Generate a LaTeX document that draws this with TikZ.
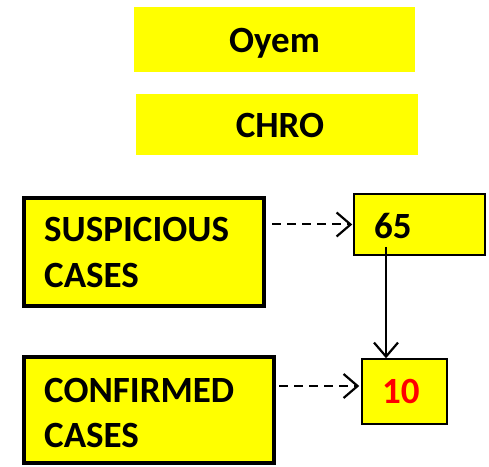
\documentclass[tikz,border=0pt]{standalone}
\usepackage{fontspec}
\setmainfont{Carlito}
\usetikzlibrary{arrows.meta,calc}
\definecolor{boxyellow}{RGB}{255,255,0}
\definecolor{numred}{RGB}{255,0,0}
\tikzset{
  x=1pt,y=1pt,
  plainbox/.style={fill=boxyellow,draw=none,inner sep=0pt,rectangle},
  thickbox/.style={fill=boxyellow,draw=black,line width=4pt,inner sep=0pt,rectangle},
  thinbox/.style={fill=boxyellow,draw=black,line width=1.5pt,inner sep=0pt,rectangle},
  lbl/.style={font=\bfseries\fontsize{37}{44}\selectfont,inner sep=0pt,anchor=base west},
  clbl/.style={font=\bfseries\fontsize{37}{44}\selectfont,inner sep=0pt,anchor=base},
  dasharrow/.style={line width=2pt,dash pattern=on 9pt off 6pt,-{Straight Barb[length=14pt,width=24pt,line width=2.2pt]}},
  solidarrow/.style={line width=2pt,-{Straight Barb[length=14pt,width=24pt,line width=2.2pt]}}
}
\begin{document}
\begin{tikzpicture}
\useasboundingbox (0,0) rectangle (489,466);
\node[plainbox,minimum width=281,minimum height=65] (oyem) at (274.5,426.5) {};
\node[clbl] (toyem) at (274.5,413) {Oyem};
\node[plainbox,minimum width=282,minimum height=61] (chro) at (277,341.5) {};
\node[clbl] (tchro) at (280,328) {CHRO};

\node[thickbox,minimum width=240,minimum height=108] (susp) at (144,214) {};
\node[lbl] (ts1) at (44,224) {SUSPICIOUS};
\node[lbl] (ts2) at (44,179) {CASES};

\node[thickbox,minimum width=250,minimum height=106] (conf) at (149,56) {};
\node[lbl] (tc1) at (44,64) {CONFIRMED};
\node[lbl] (tc2) at (44,19) {CASES};

\node[thinbox,minimum width=131,minimum height=61] (n65) at (419.5,241.5) {};
\node[lbl] (t65) at (374,227) {65};
\node[thinbox,minimum width=85,minimum height=65] (n10) at (404.5,74.5) {};
\node[lbl,text=numred] (t10) at (382,63) {10};

\draw[dasharrow] ([xshift=6pt]susp.east |- n65.west) -- ([xshift=-1pt]n65.west);
\coordinate (a2end) at ([yshift=5.5pt,xshift=-2pt]n10.west);
\draw[dasharrow] ([xshift=3pt]conf.east |- a2end) -- (a2end);
\coordinate (vtop) at (386,219);
\draw[solidarrow] (vtop) -- (vtop |- n10.north);
\end{tikzpicture}
\end{document}
